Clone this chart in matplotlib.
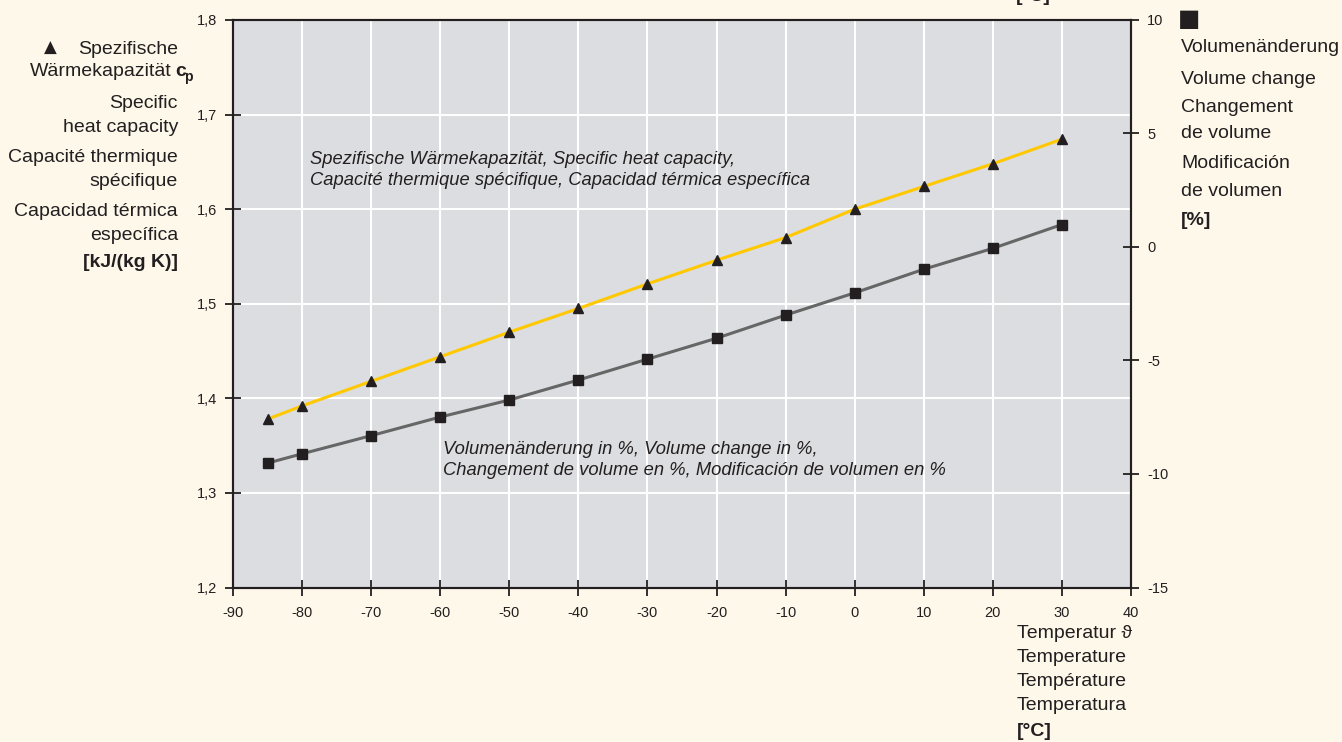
import matplotlib
matplotlib.use("Agg")
import matplotlib.pyplot as plt

# data
temps = [-85, -80, -70, -60, -50, -40, -30, -20, -10, 0, 10, 20, 30]
cp = [1.378, 1.392, 1.418, 1.444, 1.470, 1.495, 1.521, 1.546, 1.570, 1.600, 1.624, 1.648, 1.674]
vol = [-9.52, -9.11, -8.31, -7.49, -6.74, -5.86, -4.94, -4.02, -3.0, -2.02, -0.98, -0.06, 0.99]

x_ticks = [-90, -80, -70, -60, -50, -40, -30, -20, -10, 0, 10, 20, 30, 40]
cp_ticks = [1.2, 1.3, 1.4, 1.5, 1.6, 1.7, 1.8]
vol_ticks = [-15, -10, -5, 0, 5, 10]

left_label = ["Spezifische", "Wärmekapazität", "Specific", "heat capacity",
              "Capacité thermique", "spécifique", "Capacidad térmica", "específica"]
right_label = ["Volumenänderung", "Volume change", "Changement", "de volume",
               "Modificación", "de volumen"]
bottom_label = ["Temperatur \u03d1", "Temperature", "Température", "Temperatura"]

BG = "#fdf8ea"
PLOT_BG = "#dcdde0"
INK = "#231f20"
YELLOW = "#ffc800"
GREY = "#666666"

plt.rcParams['font.family'] = ['Liberation Sans', 'DejaVu Sans']
plt.rcParams['text.color'] = INK

W, H = 1342, 742
fig = plt.figure(figsize=(W / 100, H / 100), dpi=100, facecolor=BG)

def fx(px):
    return px / W

def fy(py):
    return 1 - py / H

ax = fig.add_axes([fx(233), fy(587.5), fx(1131) - fx(233), fy(20) - fy(587.5)])
ax.set_facecolor(PLOT_BG)
ax.set_xlim(-90, 40)
ax.set_ylim(1.2, 1.8)
ax.set_xticks(x_ticks)
ax.set_xticklabels([str(t) for t in x_ticks])
ax.set_yticks(cp_ticks)
ax.set_yticklabels([("%.1f" % t).replace(".", ",") for t in cp_ticks])
ax.grid(True, color="white", linewidth=1.5, zorder=0)
ax.set_axisbelow(True)
for s in ax.spines.values():
    s.set_color(INK)
    s.set_linewidth(1.5)
ax.tick_params(direction="inout", length=11, width=1.3, color=INK,
               labelsize=10.5, labelcolor=INK)
ax.tick_params(axis="x", pad=8)
ax.tick_params(axis="y", pad=6)

ax2 = ax.twinx()
ax2.set_ylim(-15, 10)
ax2.set_yticks(vol_ticks)
ax2.set_yticklabels([str(t) for t in vol_ticks])
for s in ax2.spines.values():
    s.set_color(INK)
    s.set_linewidth(1.5)
ax2.tick_params(direction="inout", length=11, width=1.3, color=INK,
                labelsize=10.5, labelcolor=INK, pad=6)

ax.plot(temps, cp, color=YELLOW, linewidth=2.2, marker="^", markersize=7.5,
        markerfacecolor=INK, markeredgecolor=INK, zorder=3)
ax2.plot(temps, vol, color=GREY, linewidth=2.2, marker="s", markersize=6.5,
         markerfacecolor=INK, markeredgecolor=INK, zorder=3)

# in-plot annotations
ax.text(-78.8, 1.641, "Spezifische Wärmekapazität, Specific heat capacity,\n"
        "Capacité thermique spécifique, Capacidad térmica específica",
        fontsize=13.2, style="italic", va="center", ha="left", linespacing=1.3)
ax.text(-59.6, 1.335, "Volumenänderung in %, Volume change in %,\n"
        "Changement de volume en %, Modificación de volumen en %",
        fontsize=13.2, style="italic", va="center", ha="left", linespacing=1.3)

# left axis label block
left_y = [49, 72, 103, 127, 157, 181, 211, 235]
for txt, py in zip(left_label, left_y):
    xr = 172 if txt == "Wärmekapazität" else 178
    fig.text(fx(xr), fy(py), txt, fontsize=14, ha="right", va="center")
fig.text(fx(175), fy(72), "c", fontsize=14, weight="bold", ha="left", va="center")
fig.text(fx(184), fy(77), "p", fontsize=10, weight="bold", ha="left", va="center")
fig.text(fx(178), fy(262), "[kJ/(kg K)]", fontsize=14, weight="bold", ha="right", va="center")
fig.text(fx(50), fy(48), "\u25b2", fontsize=12, ha="center", va="center",
         family=["DejaVu Sans"])

# right axis label block
fig.text(fx(1189), fy(19), "\u25a0", fontsize=17, ha="center", va="center",
         family=["DejaVu Sans"])
right_y = [48, 79, 108, 134, 164, 191]
for txt, py in zip(right_label, right_y):
    fig.text(fx(1181), fy(py), txt, fontsize=14, ha="left", va="center")
fig.text(fx(1181), fy(221), "[%]", fontsize=14, weight="bold", ha="left", va="center")

# x axis label block
bottom_y = [633, 657, 682, 706]
for txt, py in zip(bottom_label, bottom_y):
    fig.text(fx(1017), fy(py), txt, fontsize=14, ha="left", va="center")
fig.text(fx(1017), fy(731), "[°C]", fontsize=14, weight="bold", ha="left", va="center")

# clipped label at the very top edge, as in the reference
fig.text(fx(1016), fy(5), "[°C]", fontsize=14, weight="bold", ha="left", va="bottom")

fig.savefig("out.png", dpi=100, facecolor=BG)
